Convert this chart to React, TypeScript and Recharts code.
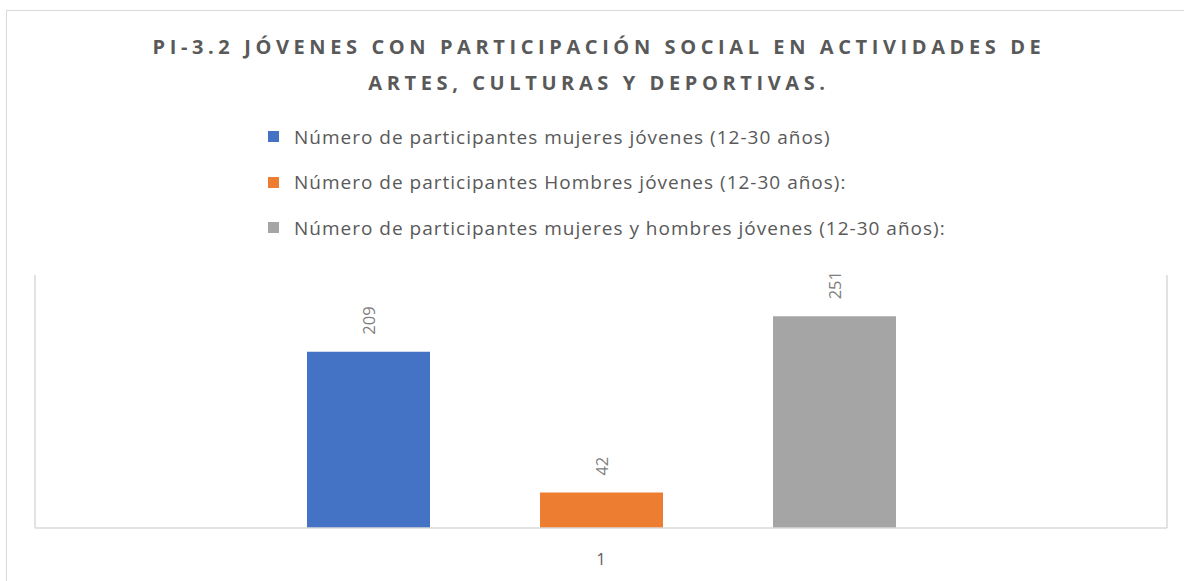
import React from "react";
import { BarChart, Bar, XAxis, YAxis, LabelList } from "recharts";

const categories = ["1"];
const seriesNames = [
  "Número de participantes mujeres jóvenes (12-30 años)",
  "Número de participantes Hombres jóvenes (12-30 años):",
  "Número de participantes mujeres y hombres jóvenes (12-30 años):",
];
const seriesKeys = ["mujeres", "hombres", "total"];
const seriesColors = ["#4472c4", "#ed7d31", "#a5a5a5"];
const mujeresValues = [209];
const hombresValues = [42];
const totalValues = [251];

const titleLines = [
  "PI-3.2 JÓVENES CON PARTICIPACIÓN SOCIAL EN ACTIVIDADES DE",
  "ARTES, CULTURAS Y DEPORTIVAS.",
];

const data = categories.map((c, i) => ({
  name: c,
  mujeres: mujeresValues[i],
  hombres: hombresValues[i],
  total: totalValues[i],
}));

const FONT = "'Open Sans', 'Noto Sans', sans-serif";
const TEXT = "#595959";
const AXIS = "#d9d9d9";

const VerticalLabel = (props: any) => {
  const { x, y, width, value } = props;
  const cx = x + width / 2;
  const cy = y - 17;
  return (
    <text
      x={cx}
      y={cy}
      transform={`rotate(-90 ${cx} ${cy})`}
      textAnchor="start"
      dominantBaseline="central"
      fill="#7f7f7f"
      fontSize={16.5}
      fontFamily={FONT}
    >
      {value}
    </text>
  );
};

export default function App() {
  return (
    <div style={{ position: "absolute", left: 0, top: 0, width: 1184, height: 581, overflow: "hidden", background: "#fff", fontFamily: FONT }}>
      <div style={{ position: "absolute", left: 6, top: 10, width: 1200, height: 600, border: "1px solid " + AXIS }} />
      <div style={{ position: "absolute", left: 0, top: 29, width: 1198, textAlign: "center", color: TEXT, fontWeight: 700, fontSize: 20, letterSpacing: 4.6, lineHeight: "36px" }}>
        {titleLines.map((t) => (
          <div key={t}>{t}</div>
        ))}
      </div>
      <div style={{ position: "absolute", left: 268, top: 114 }}>
        {seriesNames.map((n, i) => (
          <div key={n} style={{ display: "flex", alignItems: "center", height: 45.5, color: TEXT, fontSize: 19, letterSpacing: 1 }}>
            <span style={{ width: 11, height: 11, background: seriesColors[i], marginRight: 15, display: "inline-block" }} />
            {n}
          </div>
        ))}
      </div>
      <div style={{ position: "absolute", left: 0, top: 0 }}>
        <BarChart
          width={1184}
          height={581}
          data={data}
          margin={{ top: 275, right: 16, bottom: 23, left: 34 }}
          barSize={123}
          barGap={110}
        >
          <XAxis
            dataKey="name"
            height={30}
            axisLine={{ stroke: AXIS, strokeWidth: 1.5 }}
            tickLine={false}
            tick={{ fill: TEXT, fontSize: 16, fontFamily: FONT }}
            tickMargin={20}
          />
          <YAxis yAxisId="l" domain={[0, 300]} width={1} tick={false} axisLine={{ stroke: AXIS, strokeWidth: 1.5 }} />
          <YAxis yAxisId="r" orientation="right" domain={[0, 300]} width={1} tick={false} axisLine={{ stroke: AXIS, strokeWidth: 1.5 }} />
          {seriesKeys.map((k, i) => (
            <Bar key={k} yAxisId="l" dataKey={k} fill={seriesColors[i]} isAnimationActive={false}>
              <LabelList dataKey={k} content={<VerticalLabel />} />
            </Bar>
          ))}
        </BarChart>
      </div>
    </div>
  );
}
